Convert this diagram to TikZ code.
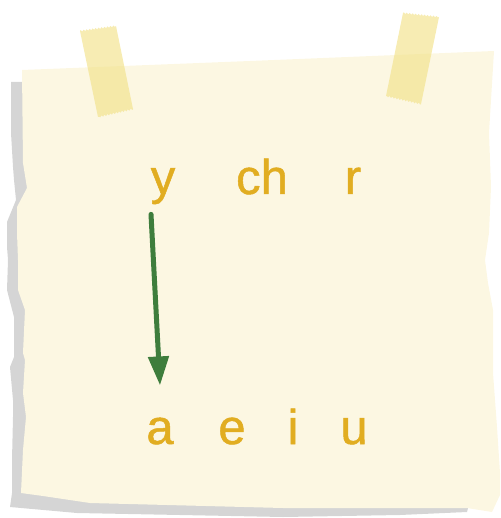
\documentclass[tikz,border=0pt]{standalone}
\usepackage{fontspec}
\newfontfamily\notefont[FakeBold=1]{Liberation Sans}
\usetikzlibrary{arrows.meta,decorations.pathmorphing}
\definecolor{paper}{HTML}{FCF7E2}
\definecolor{notegray}{HTML}{D5D5D5}
\definecolor{tape}{HTML}{F2E28A}
\definecolor{ink}{HTML}{E1AD21}
\definecolor{leaf}{HTML}{3E7D3C}
\begin{document}
\begin{tikzpicture}[x = 1pt, y = -1pt,
		letter/.style = {inner sep = 0pt, anchor = base, text = ink, font = \notefont\fontsize{49}{49}\selectfont},
		pointer/.style = {leaf, line width = 5pt, line cap = round, -{Triangle[length = 29pt, width = 20pt]}},
		tapestrip/.style = {fill = tape, fill opacity = 0.65, decoration = {zigzag, segment length = 3pt, amplitude = 0.8pt}}]
		\useasboundingbox (0,0) rectangle (500,518);
		% shadow behind the note
		\fill[notegray] (11,82) -- (11,133) -- (13,167) -- (14,180) -- (16,200) -- (7,222) -- (7,247) -- (8,260) -- (7,290) -- (14,317) -- (14,357) -- (10,367) -- (13,400) -- (13,417) -- (12,460) -- (12,493) -- (10,507) -- (77,513) -- (283,517) -- (400,515) -- (467,512) -- (470,500) -- (300,300) -- (30,82) -- cycle;
		% the note
		\fill[paper] (22,70) -- (250,61) -- (494,51) -- (491,100) -- (489,133) -- (491,187) -- (489,233) -- (485,260) -- (488,283) -- (493,310) -- (493,373) -- (497,427) -- (500,473) -- (500,495) -- (492,512) -- (467,508) -- (283,508) -- (90,503) -- (43,496) -- (21,493) -- (23,450) -- (26,417) -- (23,393) -- (25,360) -- (23,353) -- (25,310) -- (18,290) -- (18,260) -- (17,233) -- (17,207) -- (27,188) -- (23,163) -- cycle;
		% tape
		\fill[tapestrip] (80,31) decorate {-- (116,26)} -- (133,109) decorate {-- (98,117)} -- cycle;
		\fill[tapestrip] (403,13) decorate {-- (439,17)} -- (421,104) decorate {-- (386,96)} -- cycle;
		% letters
		\node[letter] (y) at (163,194) {y};
		\node[letter] (ch) at (262,194) {ch};
		\node[letter] (r) at (353,194) {r};
		\node[letter] (a) at (160,444) {a};
		\node[letter] (e) at (232,444) {e};
		\node[letter] (i) at (293,444) {i};
		\node[letter] (u) at (354,444) {u};
		\draw[pointer] ([xshift = -12pt, yshift = -10pt]y.south) -- ([yshift = 32pt]a.north);
	\end{tikzpicture}
\end{document}
